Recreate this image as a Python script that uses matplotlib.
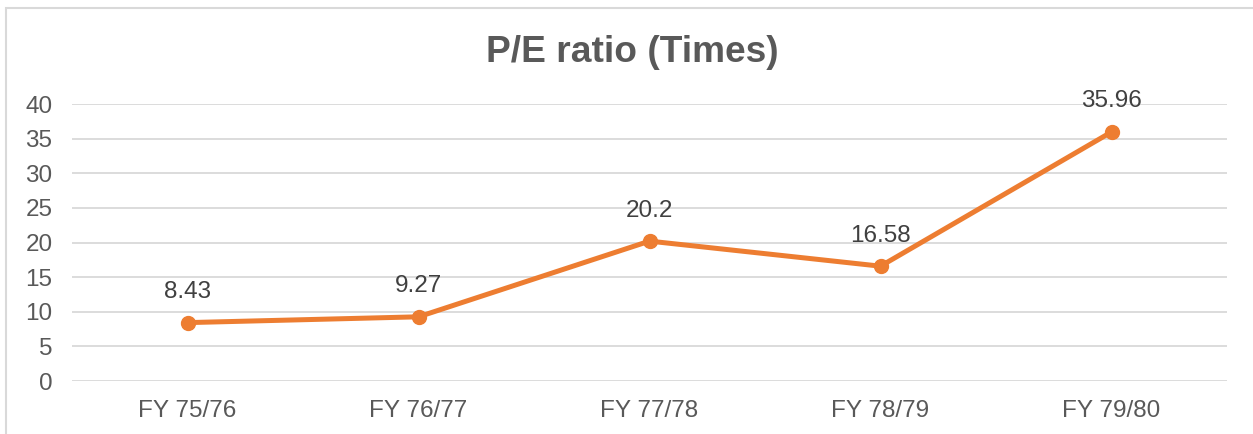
import matplotlib.pyplot as plt
from matplotlib.patches import Rectangle

# Data
years = ['FY 75/76', 'FY 76/77', 'FY 77/78', 'FY 78/79', 'FY 79/80']
pe_ratio = [8.43, 9.27, 20.2, 16.58, 35.96]
pe_labels = ['8.43', '9.27', '20.2', '16.58', '35.96']
y_ticks = [0, 5, 10, 15, 20, 25, 30, 35, 40]

plt.rcParams['font.family'] = ['Liberation Sans', 'DejaVu Sans']

W, H = 1253, 434
fig = plt.figure(figsize=(W / 100, H / 100), dpi=100)
ax = fig.add_axes([72 / W, 1 - 381 / H, (1227 - 72) / W, (381 - 104) / H])

# outer chart border
fig.patches.append(Rectangle((6 / W, -0.1), 1.2, 1.1 - 8 / H,
                             transform=fig.transFigure, fill=False,
                             edgecolor='#d9d9d9', linewidth=1.5))

x = list(range(len(years)))
ax.plot(x, pe_ratio, color='#ed7d31', linewidth=3.6, marker='o',
        markersize=10, solid_capstyle='round', zorder=3)

for xi, v, lab in zip(x, pe_ratio, pe_labels):
    ax.annotate(lab, (xi, v), xytext=(0, 22), textcoords='offset points',
                ha='center', va='center', fontsize=17.5, color='#404040')

ax.set_xlim(-0.5, len(years) - 0.5)
ax.set_ylim(0, 40)
ax.set_yticks(y_ticks)
ax.set_xticks(x)
ax.set_xticklabels(years)
ax.grid(axis='y', color='#d9d9d9', linewidth=1.3)
ax.set_axisbelow(True)
for s in ax.spines.values():
    s.set_visible(False)
ax.tick_params(length=0, labelsize=17.5, labelcolor='#595959')
ax.tick_params(axis='x', pad=14)
ax.tick_params(axis='y', pad=14)

fig.text(632 / W, 1 - 53 / H, 'P/E ratio (Times)', ha='center', va='center',
         fontsize=26.7, fontweight='bold', color='#595959')

fig.savefig('out.png', dpi=100)
